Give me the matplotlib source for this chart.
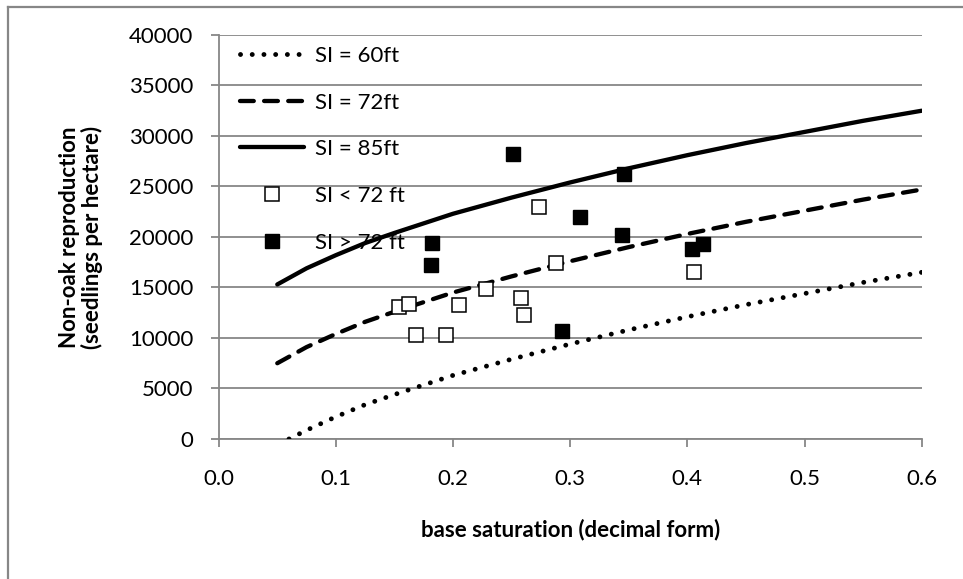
import matplotlib
matplotlib.use('Agg')
import matplotlib.pyplot as plt
from matplotlib.lines import Line2D

plt.rcParams['font.family'] = ['Lato', 'DejaVu Sans']

# curve readings (base saturation vs seedlings/ha)
curve_x = [0.05, 0.075, 0.1, 0.125, 0.15, 0.2, 0.25, 0.3, 0.35, 0.4, 0.45, 0.5, 0.55, 0.6]
si85_y = [15300, 16900, 18200, 19400, 20400, 22300, 23900, 25400, 26800, 28100, 29300, 30400, 31500, 32500]
si72_y = [7500, 9100, 10400, 11600, 12600, 14500, 16100, 17600, 19000, 20300, 21500, 22600, 23700, 24700]
si60_x = [0.06, 0.075, 0.1, 0.125, 0.15, 0.2, 0.25, 0.3, 0.35, 0.4, 0.45, 0.5, 0.55, 0.6]
si60_y = [0, 870, 2200, 3400, 4400, 6300, 7900, 9400, 10800, 12100, 13300, 14400, 15500, 16500]

# observed plots
low_x = [0.154, 0.162, 0.168, 0.194, 0.205, 0.228, 0.258, 0.261, 0.273, 0.288, 0.406]
low_y = [13100, 13400, 10300, 10300, 13250, 14850, 14000, 12250, 22950, 17450, 16500]
high_x = [0.182, 0.181, 0.251, 0.308, 0.346, 0.344, 0.404, 0.413, 0.293]
high_y = [19450, 17250, 28200, 21950, 26250, 20200, 18800, 19300, 10700]

GRID = "#878787"
FS = 16

fig = plt.figure(figsize=(9.63, 5.79), dpi=100)
ax = fig.add_axes([0.2271, 0.2418, 0.7300, 0.6978])

ax.plot(si60_x, si60_y, color="black", lw=3.5, linestyle=(0, (0.01, 2.4)),
        dash_capstyle="round", label="SI = 60ft", zorder=3)
ax.plot(curve_x, si72_y, color="black", lw=3.1, linestyle=(0, (3.2, 2.4)),
        dash_capstyle="round", label="SI = 72ft", zorder=3)
ax.plot(curve_x, si85_y, color="black", lw=3.1, solid_capstyle="round",
        label="SI = 85ft", zorder=3)
ax.plot(low_x, low_y, linestyle="none", marker="s", markersize=9.5,
        markerfacecolor="white", markeredgecolor="black", markeredgewidth=1.1,
        label="SI < 72 ft", zorder=4)
ax.plot(high_x, high_y, linestyle="none", marker="s", markersize=9.5,
        markerfacecolor="black", markeredgecolor="black",
        label="SI > 72 ft", zorder=4)

ax.set_xlim(0, 0.6)
ax.set_ylim(0, 40000)
ax.set_xticks([0.0, 0.1, 0.2, 0.3, 0.4, 0.5, 0.6])
ax.set_xticklabels(["0.0", "0.1", "0.2", "0.3", "0.4", "0.5", "0.6"])
ax.set_yticks(range(0, 40001, 5000))
ax.yaxis.grid(True, color=GRID, lw=1.3)
ax.set_axisbelow(True)
for s in ["top", "right"]:
    ax.spines[s].set_visible(False)
for s in ["left", "bottom"]:
    ax.spines[s].set_color(GRID)
    ax.spines[s].set_linewidth(1.3)
ax.tick_params(axis="y", direction="out", length=5.8, width=1.3, color=GRID,
               pad=12.5, labelsize=FS)
ax.tick_params(axis="x", direction="out", length=5.8, width=1.3, color=GRID,
               pad=16, labelsize=FS)

ax.set_xlabel("base saturation (decimal form)", fontsize=FS, fontweight="bold",
              labelpad=21)
ax.set_ylabel("Non-oak reproduction\n(seedlings per hectare)", fontsize=FS,
              fontweight="bold", labelpad=19, linespacing=1.05)

ax.legend(loc="upper left", bbox_to_anchor=(0.030, 0.973), frameon=False,
          fontsize=FS, handlelength=2.9, handletextpad=0.5, labelspacing=1.2,
          borderpad=0, borderaxespad=0)

# outer chart border (left and top only visible)
fig.add_artist(Line2D([8 / 963, 8 / 963], [0, 1 - 6.5 / 579], color=GRID, lw=1.6))
fig.add_artist(Line2D([8 / 963, 1], [1 - 6.5 / 579, 1 - 6.5 / 579], color=GRID, lw=1.6))

plt.savefig("out.png", dpi=100)
plt.close()
